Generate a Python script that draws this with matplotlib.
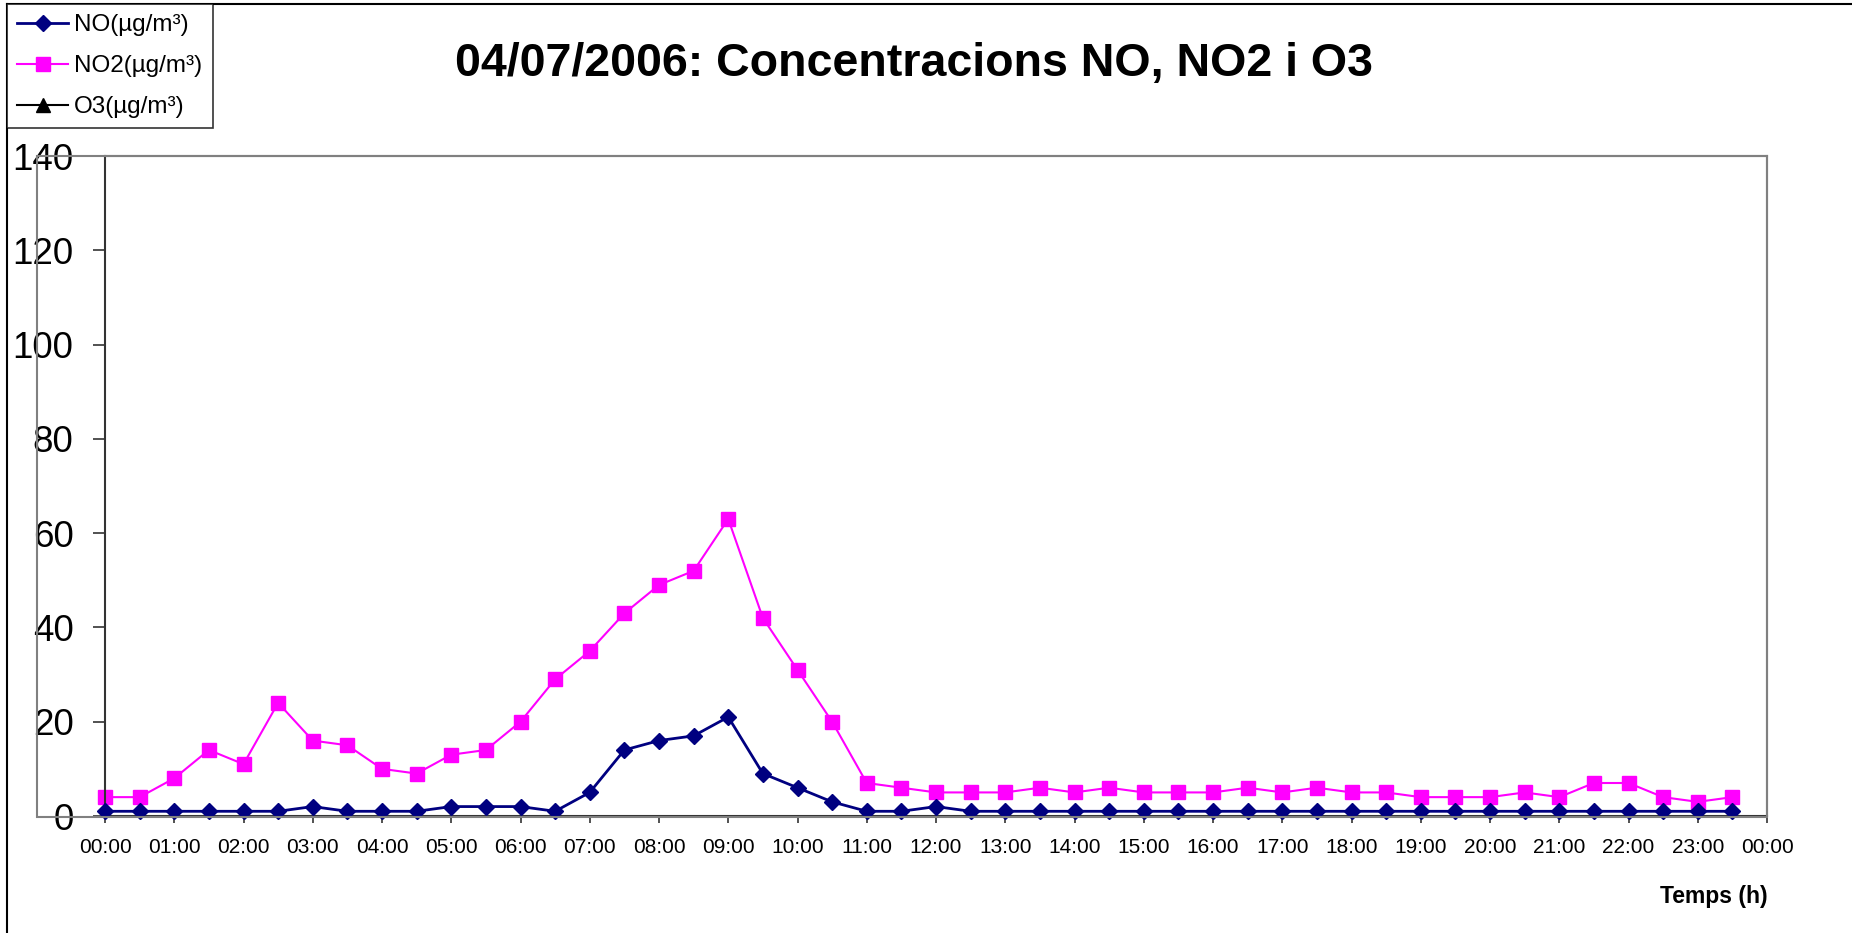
import numpy as np
import matplotlib
matplotlib.use("Agg")
import matplotlib.pyplot as plt
from matplotlib.patches import Rectangle
from matplotlib.lines import Line2D

plt.rcParams['font.family'] = ['Liberation Sans', 'DejaVu Sans']

# half-hourly readings, 00:00 .. 23:30
hours = [h / 2 for h in range(48)]

no = [1, 1, 1, 1, 1, 1, 2, 1, 1, 1, 2, 2, 2, 1, 5, 14, 16, 17, 21, 9, 6, 3, 1, 1,
      2, 1, 1, 1, 1, 1, 1, 1, 1, 1, 1, 1, 1, 1, 1, 1, 1, 1, 1, 1, 1, 1, 1, 1]
no2 = [4, 4, 8, 14, 11, 24, 16, 15, 10, 9, 13, 14, 20, 29, 35, 43, 49, 52, 63, 42, 31, 20, 7, 6,
       5, 5, 5, 6, 5, 6, 5, 5, 5, 6, 5, 6, 5, 5, 4, 4, 4, 5, 4, 7, 7, 4, 3, 4]
o3 = []  # no ozone readings that day

tick_hours = list(range(25))
tick_labels = ["%02d:00" % (h % 24) for h in tick_hours]
y_ticks = [0, 20, 40, 60, 80, 100, 120, 140]

W, H = 1852, 933
fig = plt.figure(figsize=(W / 100, H / 100), dpi=100)

# plot area box (grey) that reaches past the y axis, like the spreadsheet chart
fig.patches.append(Rectangle((37 / W, 1 - 817 / H), (1767 - 37) / W, (817 - 156) / H,
                             transform=fig.transFigure, fill=False,
                             edgecolor='#808080', linewidth=1.5, zorder=0))
# outer chart border (left and top only visible)
fig.lines.append(Line2D([7 / W, 7 / W], [0, 1 - 4 / H], transform=fig.transFigure,
                        color='black', linewidth=1.5))
fig.lines.append(Line2D([7 / W, 1], [1 - 4 / H, 1 - 4 / H], transform=fig.transFigure,
                        color='black', linewidth=1.5))

ax = fig.add_axes([105 / W, 1 - 816 / H, (1767 - 105) / W, (816 - 156) / H])
ax.patch.set_alpha(0)

l_no, = ax.plot(hours, no, color='#000080', marker='D', markersize=8.5, linewidth=2,
                label='NO(µg/m³)', clip_on=False, zorder=3)
l_no2, = ax.plot(hours, no2, color='#FF00FF', marker='s', markersize=10.5, linewidth=1.5,
                 label='NO2(µg/m³)', clip_on=False, zorder=2)
l_o3, = ax.plot(o3, o3, color='black', marker='^', markersize=10, linewidth=1.5,
                label='O3(µg/m³)')

ax.set_xlim(0, 24)
ax.set_ylim(0, 140)
ax.set_xticks(tick_hours)
ax.set_xticklabels(tick_labels, fontsize=15)
ax.set_yticks(y_ticks)
ax.set_yticklabels([str(v) for v in y_ticks], fontsize=26.5)
ax.tick_params(axis='y', direction='out', length=8.6, width=1.2, pad=14, color='#333333')
ax.tick_params(axis='x', direction='out', length=5, width=1.2, pad=11, color='#333333')

for s in ['left', 'bottom']:
    ax.spines[s].set_color('#333333')
    ax.spines[s].set_linewidth(1.5)
for s in ['top', 'right']:
    ax.spines[s].set_color('#808080')
    ax.spines[s].set_linewidth(1.5)

fig.text(914 / W, 1 - 64 / H, '04/07/2006: Concentracions NO, NO2 i O3',
         fontsize=33.5, fontweight='bold', ha='center', va='center')
fig.text(1768 / W, 1 - 896 / H, 'Temps (h)', fontsize=16.5, fontweight='bold',
         ha='right', va='center')

leg = fig.legend(handles=[l_no, l_no2, l_o3], loc='upper left',
                 bbox_to_anchor=(7 / W, 1 - 4 / H), borderaxespad=0,
                 fontsize=17.5, frameon=True, fancybox=False, edgecolor='black',
                 handlelength=2.1, handletextpad=0.25, labelspacing=0.78,
                 borderpad=0.42, markerscale=1.0)
leg.get_frame().set_linewidth(1.2)

fig.savefig('out.png', dpi=100)
